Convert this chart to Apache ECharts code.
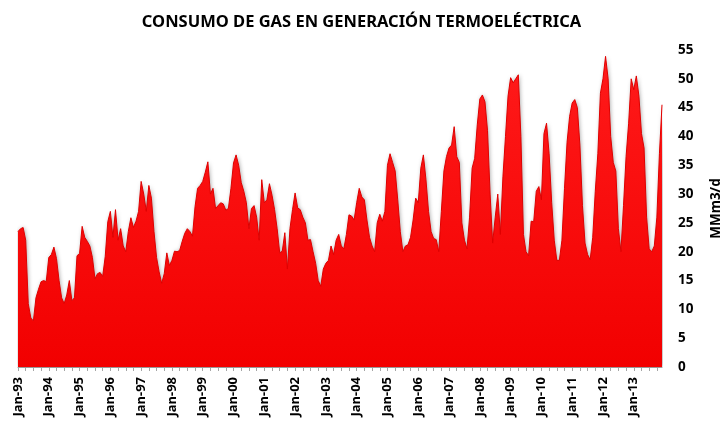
<!DOCTYPE html>
<html>
<head>
<meta charset="utf-8">
<title>Consumo de gas en generación termoeléctrica</title>
<script src="https://cdn.jsdelivr.net/npm/echarts@6/dist/echarts.min.js"></script>
<style>
  html, body { margin: 0; padding: 0; background: #fff; }
  #chart { width: 723px; height: 421px; }
</style>
</head>
<body>
<div id="chart"></div>
<script>
// etiquetas mensuales Jan-93 ... Dec-13
const mesesAbr = ['Jan', 'Feb', 'Mar', 'Apr', 'May', 'Jun', 'Jul', 'Aug', 'Sep', 'Oct', 'Nov', 'Dec'];
const anios = ['93', '94', '95', '96', '97', '98', '99', '00', '01', '02', '03',
               '04', '05', '06', '07', '08', '09', '10', '11', '12', '13'];

// consumo mensual, MMm3/d
const consumo = [
  23.5, 24, 24.2, 22, 11, 8.5, 8, 12, 13.5, 14.8, 15, 14.8,          // 1993
  19, 19.5, 20.8, 18.8, 15, 12, 11, 12.5, 15, 11.5, 12, 19.3,        // 1994
  19.7, 24.4, 22.5, 21.8, 21, 19, 15.3, 16.2, 16.4, 15.7, 19.2, 25.2,// 1995
  27, 22.5, 27.3, 22, 24, 21, 20, 23.5, 25.9, 24.2, 25.3, 27,        // 1996
  32.2, 30, 27, 31.5, 29.3, 23.5, 19, 16.5, 14.5, 16.2, 19.8, 17.6,  // 1997
  18.5, 20.1, 20, 20.2, 21.8, 23.2, 24, 23.5, 22.7, 27.8, 31, 31.5,  // 1998
  32.2, 33.8, 35.6, 30, 31, 27.5, 28, 28.5, 28.3, 27.2, 27.5, 31,    // 1999
  35.4, 36.8, 35, 32, 30.5, 28.5, 24, 27.5, 28, 26, 22, 32.5,        // 2000
  28.5, 29, 31.8, 29.8, 27.3, 24, 19.8, 20.1, 23.3, 17, 24, 27.3,    // 2001
  30.2, 27.6, 27.3, 26, 25, 22, 22.1, 20, 18, 15, 14, 17,            // 2002
  18, 18.5, 21, 19.5, 22, 23, 21, 20.5, 23, 26.4, 26.2, 25.5,        // 2003
  28.5, 31, 29.5, 29, 25.5, 22.5, 21, 20, 25, 26.5, 25.3, 27,        // 2004
  35, 37, 35.5, 34, 29, 23.5, 20, 21, 21.2, 22.5, 25.5, 29.3,        // 2005
  28.5, 34.5, 36.8, 32.5, 27, 23.5, 22.3, 22.1, 20, 27, 34, 36.5,    // 2006
  38, 38.5, 41.7, 36.5, 35.5, 25, 22, 20.5, 26, 34.5, 36.2, 42,      // 2007
  46.5, 47.2, 46, 41, 30, 21.5, 26, 30, 23, 33, 40, 47,              // 2008
  50.2, 49.3, 50, 50.7, 40, 23, 20, 19.3, 25.3, 25.2, 30.5, 31.3,    // 2009
  29, 40.5, 42.3, 37, 28.5, 22, 18.5, 18.5, 22, 31, 39, 43.5,        // 2010
  45.8, 46.4, 45, 38.5, 28, 21.5, 19.5, 18.6, 22.5, 30.5, 37, 47.5,  // 2011
  50, 53.9, 50, 40, 35.5, 34, 24, 20, 28, 36.5, 42.3, 50,            // 2012
  48.1, 50.5, 47, 40.5, 38, 26, 20.5, 20, 21, 26, 37, 45.5           // 2013
];

const meses = [];
anios.forEach(a => mesesAbr.forEach(m => meses.push(m + '-' + a)));

const chart = echarts.init(document.getElementById('chart'));

const option = {
  backgroundColor: '#fff',
  animation: false,
  title: {
    text: 'CONSUMO DE GAS EN GENERACIÓN TERMOELÉCTRICA',
    left: 'center',
    top: 9,
    textStyle: {
      fontFamily: 'Noto Sans',
      fontSize: 16.5,
      fontWeight: 'bold',
      color: '#000'
    }
  },
  grid: {
    left: 18,
    right: 61,
    top: 50,
    bottom: 54,
    outerBoundsMode: 'none'
  },
  xAxis: {
    type: 'category',
    data: meses,
    boundaryGap: false,
    axisLine: { lineStyle: { color: '#a6a6a6', width: 1 } },
    axisTick: {
      interval: i => i % 3 === 0,
      length: 4,
      lineStyle: { color: '#a6a6a6' }
    },
    axisLabel: {
      interval: 11,
      rotate: 90,
      margin: 10,
      fontFamily: 'Noto Sans',
      fontSize: 13,
      fontWeight: 'bold',
      color: '#000'
    },
    splitLine: { show: false }
  },
  yAxis: {
    type: 'value',
    position: 'right',
    min: 0,
    max: 55,
    interval: 5,
    name: 'MMm3/d',
    nameLocation: 'middle',
    nameRotate: 90,
    nameGap: 47,
    nameTextStyle: {
      fontFamily: 'Noto Sans',
      fontSize: 13.5,
      fontWeight: 'bold',
      color: '#000'
    },
    axisLine: { show: false },
    axisTick: { show: false },
    splitLine: { show: false },
    axisLabel: {
      margin: 16,
      fontFamily: 'Noto Sans',
      fontSize: 13.5,
      fontWeight: 'bold',
      color: '#000'
    }
  },
  series: [
    {
      name: 'Consumo',
      type: 'line',
      data: consumo,
      symbol: 'none',
      smooth: false,
      lineStyle: { color: '#e00000', width: 1 },
      areaStyle: {
        opacity: 1,
        color: {
          type: 'linear',
          x: 0, y: 0, x2: 0, y2: 1,
          colorStops: [
            { offset: 0, color: '#ff1a1a' },
            { offset: 1, color: '#f20000' }
          ]
        },
        shadowColor: 'rgba(0,0,0,0.35)',
        shadowBlur: 4,
        shadowOffsetX: 1
      }
    }
  ]
};

chart.setOption(option);
</script>
</body>
</html>
